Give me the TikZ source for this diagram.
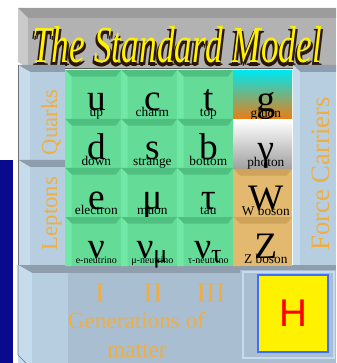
\documentclass[tikz,border=0pt]{standalone}
\usepackage{fontspec}
\setmainfont{Liberation Serif}
\newfontfamily\higgsfont{Liberation Sans}
\usepackage{graphicx}
\usetikzlibrary{positioning}
\definecolor{fermgreen}{HTML}{64DC97}
\definecolor{fermtop}{HTML}{50C080}
\definecolor{fermside}{HTML}{72E8A6}
\definecolor{bosontan}{HTML}{E2B96E}
\definecolor{bosontop}{HTML}{CFA35A}
\definecolor{gluoncyan}{HTML}{00E6EE}
\definecolor{gluonmid}{HTML}{A8A898}
\definecolor{gluonorange}{HTML}{F27A0E}
\definecolor{panelblue}{HTML}{B7CEE1}
\definecolor{panelside}{HTML}{C6DBEB}
\definecolor{panelfront}{HTML}{AABED1}
\definecolor{paneltop}{HTML}{8F9EAC}
\definecolor{titlefront}{HTML}{B2B2B2}
\definecolor{titletop}{HTML}{9C9C9C}
\definecolor{titleside}{HTML}{CACACA}
\definecolor{titledark}{HTML}{2A1606}
\definecolor{labelorange}{HTML}{F0AE40}
\definecolor{navyband}{HTML}{0A0A8C}
\definecolor{higgsblue}{HTML}{3C6EFF}
\newcommand{\smtitle}{\resizebox{217.5pt}{27pt}{\itshape The Standard Model}}
\tikzset{
  cellnode/.style={rectangle, inner sep=0pt, minimum width=42pt, minimum height=36.75pt, text height=24.75pt, text depth=0pt, font=\fontsize{28}{28}\selectfont, execute at begin node={\hspace*{5pt}}},
  bevel/.style 2 args={path picture={
    \fill[#1] (path picture bounding box.north west) -- (path picture bounding box.north east) -- ([shift={(-4pt,-5pt)}]path picture bounding box.north east) -- ([shift={(5pt,-5pt)}]path picture bounding box.north west) -- cycle;
    \fill[#2] (path picture bounding box.north west) -- ([shift={(5pt,-5pt)}]path picture bounding box.north west) -- ([shift={(5pt,0pt)}]path picture bounding box.south west) -- (path picture bounding box.south west) -- cycle;}},
  fermnode/.style={cellnode, fill=fermgreen, bevel={fermtop}{fermside}},
  bosonnode/.style={cellnode, minimum width=44.25pt},
  sublabel/.style={anchor=base, yshift=2pt, xshift=2.5pt, inner sep=0pt, font=\fontsize{10}{10}\selectfont},
  tinylabel/.style={sublabel, font=\fontsize{7.5}{7.5}\selectfont},
  sidelabel/.style={text=labelorange, rotate=90, inner sep=0pt, font=\fontsize{17}{17}\selectfont},
  genlabel/.style={text=labelorange, anchor=base, inner sep=0pt, font=\fontsize{21.5}{21.5}\selectfont},
  gentext/.style={text=labelorange, anchor=base, inner sep=0pt, font=\fontsize{17.4}{17.4}\selectfont},
  titlenode/.style={anchor=base west, inner sep=0pt, text=yellow},
  titleshade/.style={anchor=base west, inner sep=0pt, text=titledark},
  higgsbox/.style={draw=higgsblue, line width=1.2pt, fill=yellow, minimum width=52.5pt, minimum height=57.75pt, text=red, font=\higgsfont\fontsize{29}{29}\selectfont}
}
\begin{document}
\begin{tikzpicture}[x=0.75pt, y=-0.75pt]
  \useasboundingbox (0,0) rectangle (336,363);
  \fill[navyband] (0,160) rectangle (13,363);
  % title bar
  \fill[titleside] (18,8) -- (28,18) -- (28,68) -- (18,62) -- cycle;
  \fill[titletop] (18,8) -- (336,8) -- (336,18) -- (28,18) -- cycle;
  \fill[titlefront] (28,18) rectangle (336,68);
  \draw[black!65] (28,68) -- (336,68);
  \node[titleshade] (shadeA) at (30,65.5) {\smtitle};
  \node[titleshade] (shadeB) at (34,65.5) {\smtitle};
  \node[titleshade] (shadeC) at (32,66.5) {\smtitle};
  \node[titlenode] (title) at (32,63) {\smtitle};
  % side panels
  \fill[paneltop] (18,65) -- (65,65) -- (65,72) -- (30,72) -- cycle;
  \fill[panelside] (18,65) -- (30,72) -- (30,160) -- (18,160) -- cycle;
  \fill[panelblue] (30,72) rectangle (65,160);
  \fill[paneltop] (18,160) -- (65,160) -- (65,167) -- (30,167) -- cycle;
  \fill[panelside] (18,160) -- (30,167) -- (30,265) -- (18,265) -- cycle;
  \fill[panelblue] (30,167) rectangle (65,265);
  \draw[black!55] (18,65) -- (18,265);
  \fill[paneltop] (293,65) -- (336,65) -- (336,72) -- (300,72) -- cycle;
  \fill[panelside] (293,65) -- (300,72) -- (300,265) -- (293,265) -- cycle;
  \fill[panelblue] (300,72) rectangle (336,265);
  % generations and higgs panels
  \fill[paneltop] (18,265) -- (240,265) -- (240,273) -- (32,273) -- cycle;
  \fill[panelside] (18,265) -- (32,273) -- (32,363) -- (18,363) -- cycle;
  \fill[panelfront] (32,273) rectangle (240,363);
  \fill[panelblue] (32,273) rectangle (68,363);
  \draw[black!55] (18,265) -- (18,355) -- (26,363);
  \fill[paneltop] (240,265) rectangle (336,270);
  \fill[panelfront] (240,270) rectangle (336,363);
  \draw[panelside, line width=1.5pt] (243,272) rectangle (334,358);
  % fermions
  \node[fermnode, label={[sublabel]south:up}] (up) at (93,94.5) {u};
  \node[fermnode, label={[sublabel]south:charm}] (charm) at (149,94.5) {c};
  \node[fermnode, label={[sublabel]south:top}] (top) at (205,94.5) {t};
  \node[fermnode, label={[sublabel]south:down}] (down) at (93,143.5) {d};
  \node[fermnode, label={[sublabel]south:strange}] (strange) at (149,143.5) {s};
  \node[fermnode, label={[sublabel]south:bottom}] (bottom) at (205,143.5) {b};
  \node[fermnode, label={[sublabel]south:electron}] (elec) at (93,192.5) {e};
  \node[fermnode, label={[sublabel]south:muon}] (muon) at (149,192.5) {μ};
  \node[fermnode, label={[sublabel]south:tau}] (tau) at (205,192.5) {τ};
  \node[fermnode, label={[tinylabel]south:e-neutrino}] (nue) at (93,241.5) {ν};
  \node[fermnode, label={[tinylabel]south:μ-neutrino}] (numu) at (149,241.5) {ν\textsubscript{μ}};
  \node[fermnode, label={[tinylabel]south:τ-neutrino}] (nutau) at (205,241.5) {ν\textsubscript{τ}};
  % bosons
  \node[bosonnode, top color=gluoncyan, middle color=gluonmid, bottom color=gluonorange, label={[sublabel]south:gluon}] (gluon) at (262.5,95.5) {g};
  \node[bosonnode, top color=white, bottom color=gray!75, label={[sublabel]south:photon}] (photon) at (262.5,144.5) {γ};
  \node[bosonnode, fill=bosontan, bevel={bosontop}{bosontan}, label={[sublabel]south:W boson}] (wbos) at (262.5,193.5) {W};
  \node[bosonnode, fill=bosontan, bevel={bosontop}{bosontan}, label={[sublabel]south:Z boson}] (zbos) at (262.5,241.5) {Z};
  % captions
  \node[sidelabel] (quarks) at (51,122.5) {Quarks};
  \node[sidelabel] (leptons) at (52,213.5) {Leptons};
  \node[sidelabel, font=\fontsize{20}{20}\selectfont] (carriers) at (321,174) {Force Carriers};
  \node[genlabel] (genI) at (100,302) {I};
  \node[genlabel] (genII) at (153,302) {II};
  \node[genlabel] (genIII) at (211,302) {III};
  \node[gentext] (gens) at (136.5,328) {Generations of};
  \node[gentext] (matter) at (137,357) {matter};
  \node[higgsbox] (higgs) at (293,313.5) {H};
\end{tikzpicture}
\end{document}
